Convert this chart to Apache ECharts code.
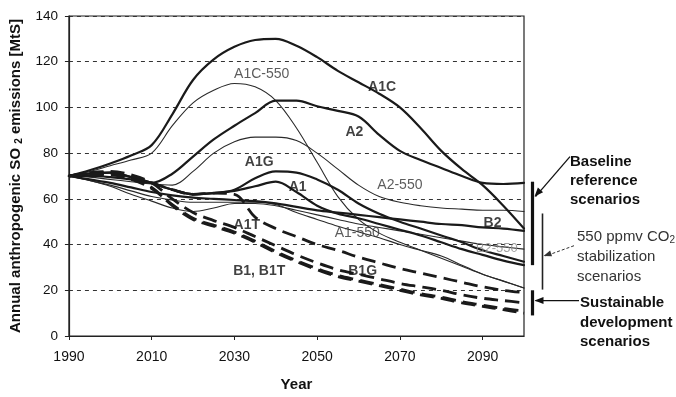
<!DOCTYPE html>
<html><head><meta charset="utf-8">
<script src="https://cdn.jsdelivr.net/npm/echarts@6/dist/echarts.min.js"></script>
<style>html,body{margin:0;padding:0;background:#fff}#c{width:676px;height:397px}</style>
</head><body><div id="c"></div>
<script>
// ---- data (years every 5 from 1990 to 2100) ----
const years = [1990,1995,2000,2005,2010,2015,2020,2025,2030,2035,2040,2045,2050,2055,2060,2065,2070,2075,2080,2085,2090,2095,2100];
// baseline (thick solid)
const A1C  = [70,72.5,75.5,79,83.5,97,112,121,126.5,129.5,130,127,122,116,111,106,100,91,81,73,66,57,47];
const A2   = [70,70,69.5,68.5,67,71,78.5,86,92,97.5,103,103,100.5,98.5,96,88,81,77,73.5,70,67,66.5,67];
const A1G  = [70,71,71.5,69.5,67,64,62,62.5,64,69,72,71.5,68.5,64,58,53.5,50,47,44,41,37.5,35,32.5];
const A1   = [70,71,71.5,69.5,67,64,62,62.5,63.5,65.5,67.5,63,57,53.5,51.5,49,46.5,44,41,38,35.5,33,31];
const B2   = [70,68.5,67,65,63,61.5,60.5,60,59.5,59,58,56.5,55,54,53,52,51,50,49,48.5,47.5,47,46];
// 550 ppmv stabilisation (thin solid)
const A1C550 = [70,72,74.5,77,80,92,102,107.5,110.5,109,103,91,76,61,51,45,41,37.5,34,30.5,27,24,21];
const A2550  = [70,69.5,68.5,67.5,66.5,66,72,80,85,87,87,85.5,80,73,66,61,58.5,57,56,55.5,55,55,54.5];
const A1550  = [70,68,66,63.5,61,59.5,58.5,58.5,58.5,58.5,57.5,54,51,48,45.5,43,40,37.5,35,31,27,24,21];
const B2550  = [70,68,65.5,62,59,56,54.5,56,58,58,57,55,53,51,49,47.5,46,44.5,43,41.5,40,39,38];
// dashed scenarios
const A1T  = [70,71,71.5,69.5,67,64,62,62.5,62,52,47,43.5,40,37.5,34.5,32,29.5,27.5,25.5,23.5,21.5,20,19];
const B1G  = [70,71.5,72,70.5,67,60,54,50.5,47.5,43.5,39.5,35.5,32,29,27,25,23,21.5,20,18,16.5,15.5,14.5];
const B1   = [70,71,71,69,65,57,51,48,45,41,36.5,32.5,29,26,24,22,20,18,16.5,14.5,13,11.5,10];
const B1T  = [70,70.5,70.5,68.5,64.5,57.5,51.5,48.5,45.5,41.5,37,33,29.5,26.5,24.5,22.5,20.5,18.5,17,15,13.5,12,11];

// axis ticks
const xMin = 1990, xMax = 2100, xStep = 20;
const yMin = 0, yMax = 140, yStep = 20;

// in-chart labels (anchored in data coordinates)
const boldLabelNames  = ['A1C','A2','A1G','A1','A1T','B2','B1, B1T','B1G'];
const boldLabelYears  = [2065.7,2059,2036,2045.3,2033,2092.4,2036,2061];
const boldLabelValues = [109,89,76,65,48.4,49.3,28.5,28.5];
const thinLabelNames  = ['A1C-550','A2-550','A1-550'];
const thinLabelYears  = [2036.6,2070,2059.7];
const thinLabelValues = [114.5,66,45];
const greyLabelNames  = ['B2-550'];
const greyLabelYears  = [2093.4];
const greyLabelValues = [38.5];

// right-hand annotation ranges (values)
const baselineRange = [31,67.5];
const stabRange = [20.3,53.6];
const sustRange = [9,20];

const pair = arr => years.map((y,i)=>[y,arr[i]]);
const FONT = 'Liberation Sans, Arial, sans-serif';
const INK = '#1a1a1a';

function line(name, arr, kind){
  const s = {name, type:'line', data:pair(arr), smooth:0.35, symbol:'none', silent:true, z:2,
    lineStyle:{color:INK, width:2.2, cap:'round'}};
  if(kind==='thin'){ s.lineStyle.width=1.1; s.lineStyle.color='#2a2a2a'; }
  if(kind==='dash'){ s.lineStyle.width=2.8; s.lineStyle.type=[14,7]; s.lineStyle.cap='butt'; s.z=3; }
  return s;
}
function labels(names, ys, vs, style){
  return {type:'scatter', symbolSize:0, silent:true, z:10,
    data: names.map((n,i)=>({name:n, value:[ys[i], vs[i]]})),
    label:{show:true, position:[0,0], align:'center', verticalAlign:'middle',
      formatter:p=>p.name, fontFamily:FONT, fontSize:style.size, fontWeight:style.weight, color:style.color}};
}

const chart = echarts.init(document.getElementById('c'), null, {renderer:'canvas'});
const option = {
  backgroundColor:'#fff',
  animation:false,
  grid:{left:67, right:152, top:16, bottom:58, show:true, borderColor:'#222', borderWidth:1.2, backgroundColor:'transparent'},
  xAxis:{type:'value', min:xMin, max:xMax, interval:xStep,
    axisLine:{show:true, onZero:false, lineStyle:{color:'#222', width:1.2}},
    axisTick:{show:true, length:4, lineStyle:{color:'#222'}},
    axisLabel:{fontFamily:FONT, fontSize:14, color:'#111', margin:14, showMaxLabel:false, formatter:v=>String(v)},
    splitLine:{show:false},
    name:'Year', nameLocation:'middle', nameGap:41,
    nameTextStyle:{fontFamily:FONT, fontSize:15, fontWeight:'bold', color:'#111'}},
  yAxis:{type:'value', min:yMin, max:yMax, interval:yStep,
    axisLine:{show:true, lineStyle:{color:'#222', width:1.2}},
    axisTick:{show:true, length:4, lineStyle:{color:'#222'}},
    axisLabel:{fontFamily:FONT, fontSize:13.5, color:'#111', margin:11, formatter:v=>String(v)},
    splitLine:{show:true, lineStyle:{color:'#333', width:1, type:[4,4]}},
    name:'{a|Annual anthropogenic SO }{s|2}{a| emissions [MtS]}', nameLocation:'middle', nameGap:44,
    nameTextStyle:{fontFamily:FONT, fontSize:15, fontWeight:'bold', color:'#111',
      rich:{a:{fontFamily:FONT, fontSize:15, fontWeight:'bold', color:'#111', lineHeight:18},
            s:{fontFamily:FONT, fontSize:10, fontWeight:'bold', color:'#111', lineHeight:12, verticalAlign:'bottom'}}}},
  series:[
    line('A1C-550',A1C550,'thin'), line('A2-550',A2550,'thin'), line('A1-550',A1550,'thin'), line('B2-550',B2550,'thin'),
    line('A1C',A1C), line('A2',A2), line('A1G',A1G), line('A1',A1), line('B2',B2),
    line('A1T',A1T,'dash'), line('B1G',B1G,'dash'), line('B1',B1,'dash'), line('B1T',B1T,'dash'),
    labels(boldLabelNames, boldLabelYears, boldLabelValues, {size:14, weight:'bold', color:'#111'}),
    labels(thinLabelNames, thinLabelYears, thinLabelValues, {size:14, weight:'normal', color:'#333'}),
    labels(greyLabelNames, greyLabelYears, greyLabelValues, {size:13, weight:'normal', color:'#888'})
  ]
};
chart.setOption(option);

// right-hand annotations, positioned from the axis scale
const P = v => chart.convertToPixel({gridIndex:0}, [xMax, v]);
const xr = P(0)[0];
function arrowHead(x1,y1,x2,y2,len,w,color){
  const a = Math.atan2(y2-y1, x2-x1);
  const bx = x2 - len*Math.cos(a), by = y2 - len*Math.sin(a);
  const nx = -Math.sin(a)*w, ny = Math.cos(a)*w;
  return {type:'polygon', shape:{points:[[x2,y2],[bx+nx,by+ny],[bx-nx,by-ny]]}, style:{fill:color}, silent:true};
}
const g = [];
const barX = xr + 8.5, stabX = xr + 18.5;
g.push({type:'line', shape:{x1:barX, y1:P(baselineRange[1])[1], x2:barX, y2:P(baselineRange[0])[1]}, style:{stroke:'#111', lineWidth:3.2}, silent:true});
g.push({type:'line', shape:{x1:stabX, y1:P(stabRange[1])[1], x2:stabX, y2:P(stabRange[0])[1]}, style:{stroke:'#222', lineWidth:1.6}, silent:true});
g.push({type:'line', shape:{x1:barX, y1:P(sustRange[1])[1], x2:barX, y2:P(sustRange[0])[1]}, style:{stroke:'#111', lineWidth:3.2}, silent:true});
// arrows
const bY = P(61)[1], tY = P(78.5)[1];
g.push({type:'line', shape:{x1:xr+46, y1:tY, x2:barX+3, y2:bY}, style:{stroke:'#111', lineWidth:1.3}, silent:true});
g.push(arrowHead(xr+46, tY, barX+2, bY, 9, 3.5, '#111'));
const sY = P(35)[1], stY = P(39.5)[1];
g.push({type:'line', shape:{x1:xr+50, y1:stY, x2:stabX+3, y2:sY}, style:{stroke:'#333', lineWidth:1, lineDash:[3,2]}, silent:true});
g.push(arrowHead(xr+50, stY, stabX+1, sY, 8, 3, '#333'));
const uY = P(15.5)[1];
g.push({type:'line', shape:{x1:xr+55, y1:uY, x2:barX+3, y2:uY}, style:{stroke:'#111', lineWidth:1.3}, silent:true});
g.push(arrowHead(xr+55, uY, barX+2, uY, 9, 3.5, '#111'));
// texts
function txt(x,y,text,bold,color,rich){
  const t = {type:'text', x, y, silent:true, style:{text, fontFamily:FONT, fontSize:15, fontWeight:bold?'bold':'normal', fill:color, verticalAlign:'middle', align:'left'}};
  if(rich) t.style.rich = rich;
  return t;
}
const y0 = P(76)[1];
g.push(txt(xr+46, y0, 'Baseline', true, '#111'));
g.push(txt(xr+46, y0+19, 'reference', true, '#111'));
g.push(txt(xr+46, y0+38, 'scenarios', true, '#111'));
const y1 = P(43.5)[1];
g.push(txt(xr+53, y1, '{a|550 ppmv CO}{s|2}', false, '#333', {a:{fontFamily:FONT, fontSize:15, fill:'#333', lineHeight:18}, s:{fontFamily:FONT, fontSize:10, fill:'#333', lineHeight:12, verticalAlign:'bottom'}}));
g.push(txt(xr+53, y1+20, 'stabilization', false, '#333'));
g.push(txt(xr+53, y1+40, 'scenarios', false, '#333'));
const y2 = P(14.5)[1];
g.push(txt(xr+56, y2, 'Sustainable', true, '#111'));
g.push(txt(xr+56, y2+20, 'development', true, '#111'));
g.push(txt(xr+56, y2+39, 'scenarios', true, '#111'));
chart.setOption({graphic:g});
</script>
</body></html>
